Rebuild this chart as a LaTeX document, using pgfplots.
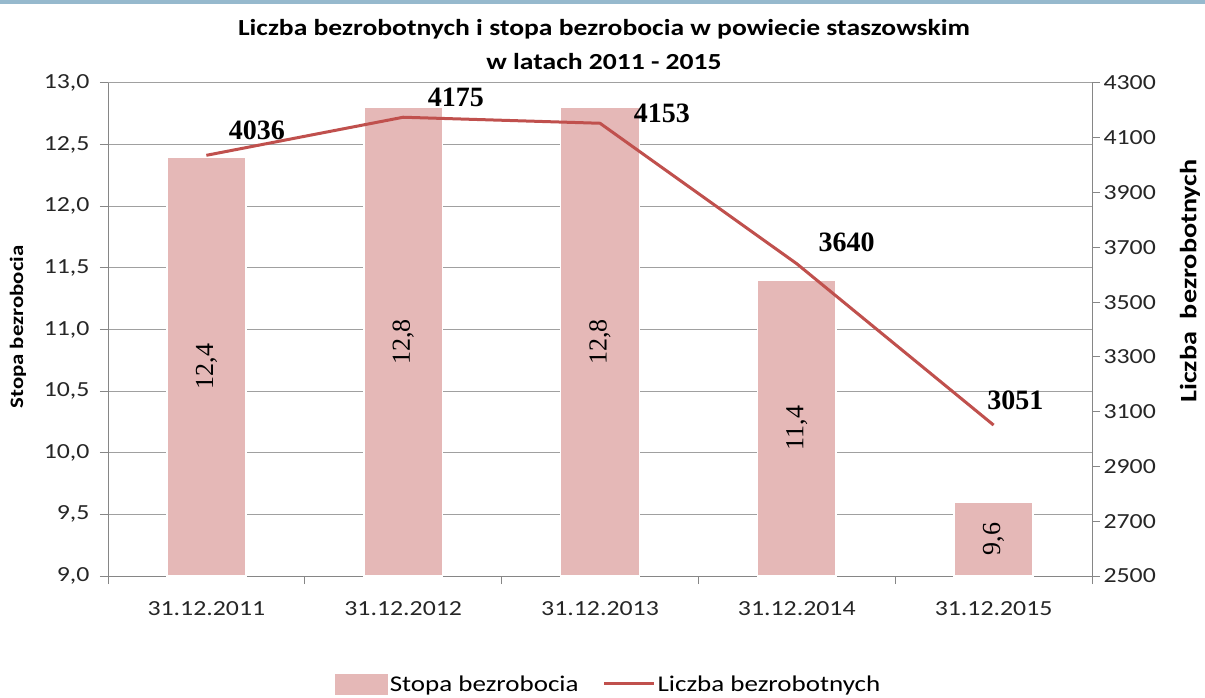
\documentclass[border=0pt]{standalone}
\usepackage{pgfplots}
\pgfplotsset{compat=1.18}
\usepackage{fontspec}
\setmainfont{Carlito}[FakeStretch=1.2]
\newfontfamily\tnr{Liberation Serif}
\definecolor{barfill}{RGB}{229,184,183}
\definecolor{linered}{RGB}{192,80,77}
\definecolor{axgray}{RGB}{134,134,134}
\definecolor{gridgray}{RGB}{160,160,160}
\definecolor{topblue}{RGB}{150,185,205}
\begin{document}
\begin{tikzpicture}
\useasboundingbox (0pt,0pt) rectangle (1205pt,697pt);
\fill[white] (0pt,0pt) rectangle (1205pt,697pt);
\fill[topblue] (0pt,693pt) rectangle (1205pt,697pt);
\node[font=\fontsize{23}{34}\selectfont\bfseries, align=center] at (604pt,652pt)
  {Liczba bezrobotnych i stopa bezrobocia w powiecie staszowskim\\w latach 2011 - 2015};
\node[rotate=90, font=\fontsize{19}{19}\selectfont\bfseries] at (18pt,370pt) {Stopa bezrobocia};
\node[rotate=90, font=\fontsize{23.5}{23.5}\selectfont\bfseries] at (1190pt,416pt) {Liczba\ \ bezrobotnych};

\begin{axis}[
  at={(108pt,121pt)}, anchor=south west,
  width=984pt, height=493pt, scale only axis,
  xmin=-0.5, xmax=4.5, ymin=9, ymax=13,
  axis x line*=bottom, axis y line*=left,
  axis line style={axgray, line width=1pt},
  xtick={0,1,2,3,4},
  xticklabels={31.12.2011,31.12.2012,31.12.2013,31.12.2014,31.12.2015},
  minor xtick={-0.5,0.5,1.5,2.5,3.5,4.5},
  major x tick style={draw=none},
  minor x tick style={axgray, line width=1pt},
  minor tick length=8pt,
  ytick={9,9.5,...,13},
  major tick length=8pt,
  y tick style={axgray, line width=1pt},
  tick align=outside,
  ymajorgrids, grid style={gridgray, line width=1pt},
  /pgf/number format/assume math mode=true,
  yticklabel style={xshift=-7pt, /pgf/number format/.cd, fixed, fixed zerofill, precision=1, use comma},
  tick label style={font=\fontsize{21.5}{21.5}\selectfont, text=black!85},
  xticklabel style={yshift=-14pt},
  clip=true,
]
\addplot[ybar, bar width=0.4, bar shift=0pt, fill=barfill, draw=white, line width=1.5pt]
  coordinates {(0,12.4) (1,12.8) (2,12.8) (3,11.4) (4,9.6)};
\addplot[draw=none, mark=none, nodes near coords, point meta=explicit symbolic,
  nodes near coords style={font=\tnr\fontsize{26}{26}\selectfont, text=black, rotate=90, anchor=center}]
  coordinates {(0,10.7) [{12,4}] (1,10.9) [{12,8}] (2,10.9) [{12,8}] (3,10.2) [{11,4}] (4,9.3) [{9,6}]};
\end{axis}

\begin{axis}[
  at={(108pt,121pt)}, anchor=south west,
  width=984pt, height=493pt, scale only axis,
  xmin=-0.5, xmax=4.5, ymin=2500, ymax=4300,
  axis x line=none, axis y line*=right,
  axis line style={axgray, line width=1pt},
  ytick={2500,2700,...,4300},
  major tick length=8pt,
  y tick style={axgray, line width=1pt},
  tick align=outside,
  /pgf/number format/assume math mode=true,
  yticklabel style={/pgf/number format/.cd, 1000 sep={}},
  tick label style={font=\fontsize{21.5}{21.5}\selectfont, text=black!85},
  legend style={at={(0.509,-0.219)}, anchor=center, draw=none, fill=none,
    font=\fontsize{22.5}{22.5}\selectfont, legend columns=2,
    /tikz/every even column/.append style={column sep=22pt}},
  clip=false,
]
\addlegendimage{legend image code/.code={\fill[barfill] (0pt,-10pt) rectangle (52pt,10pt);}}
\addlegendentry{Stopa bezrobocia}
\addplot[linered, line width=3pt, mark=none,
  legend image code/.code={\draw[linered, line width=3pt] (0pt,0pt) -- (50pt,0pt);}]
  coordinates {(0,4036) (1,4175) (2,4153) (3,3640) (4,3051)};
\addlegendentry{Liczba bezrobotnych}
\addplot[draw=none, mark=none, nodes near coords, point meta=explicit symbolic, forget plot,
  nodes near coords style={font=\tnr\bfseries\fontsize{28}{28}\selectfont, text=black, anchor=center}]
  coordinates {(0.257,4128) [4036] (1.268,4249) [4175] (2.315,4190) [4153] (3.253,3719) [3640] (4.111,3143) [3051]};
\end{axis}
\end{tikzpicture}
\end{document}
